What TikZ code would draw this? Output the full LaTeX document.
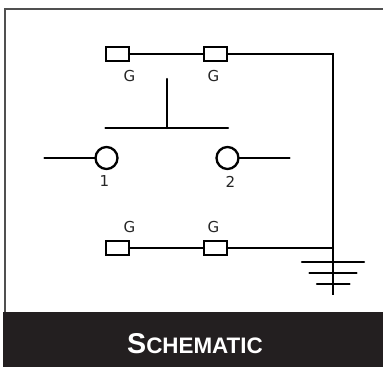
\documentclass[tikz,border=0pt]{standalone}
\usepackage{fontspec}
\setmainfont{Liberation Sans}
\newfontfamily\labelfont{DejaVu Sans}
\definecolor{band}{HTML}{231F20}
\definecolor{framegray}{HTML}{505050}
\tikzset{
  px/.style={x=0.75pt,y=-0.75pt},
  wire/.style={line width=1.65pt,black,line cap=round},
  fuse/.style={draw=black,line width=1.65pt,fill=white,minimum width=17.25pt,minimum height=10.5pt,inner sep=0pt,outer sep=0pt},
  contact/.style={circle,draw=black,line width=1.75pt,fill=white,minimum size=16.5pt,inner sep=0pt,outer sep=0pt},
  lab/.style={font=\labelfont\fontsize{11.3pt}{13pt}\selectfont,text=black!85,inner sep=0pt}
}
\begin{document}
\begin{tikzpicture}[px]
\useasboundingbox (0,0) rectangle (383,367);
\fill[white] (0,0) rectangle (383,367);
\draw[framegray,line width=1.7pt] (5,313) -- (5,9) -- (383,9);
\fill[band] (3,312) rectangle (383,367);
\node[fuse] (f1) at (117.5,54) {};
\node[fuse] (f2) at (215.5,54) {};
\node[fuse] (f3) at (117.5,248) {};
\node[fuse] (f4) at (215.5,248) {};
\node[contact] (c1) at (106.5,158) {};
\node[contact] (c2) at (227.5,158) {};
\coordinate (corner) at (333,54);
\coordinate (tee) at (333,248);
\coordinate (gndend) at (333,295);
\coordinate (l1) at (44.5,158);
\coordinate (l2) at (289.5,158);
\coordinate (busl) at (105.5,128);
\coordinate (busr) at (228,128);
\coordinate (bust) at (167,79);
\coordinate (busm) at (167,128);
\draw[wire] (f1) -- (f2);
\draw[wire,line join=miter,line cap=butt] (f2) -- (corner) -- (gndend);
\draw[wire] (f3) -- (f4);
\draw[wire] (f4) -- (tee);
\draw[wire] (busl) -- (busr);
\draw[wire] (bust) -- (busm);
\draw[wire] (l1) -- (c1);
\draw[wire] (l2) -- (c2);
\coordinate (g1l) at (302,262);
\coordinate (g1r) at (364,262);
\coordinate (g2l) at (309.5,273);
\coordinate (g2r) at (356.5,273);
\coordinate (g3l) at (317,284);
\coordinate (g3r) at (349.5,284);
\draw[wire] (g1l) -- (g1r);
\draw[wire] (g2l) -- (g2r);
\draw[wire] (g3l) -- (g3r);
\node[lab] at (129.5,76) {G};
\node[lab] at (213.5,76) {G};
\node[lab] at (129.5,227) {G};
\node[lab] at (213.5,227) {G};
\node[lab] at (104.5,181.5) {1};
\node[lab] at (230.5,181.5) {2};
\node[text=white,font=\bfseries\fontsize{21.5pt}{24pt}\selectfont,inner sep=0pt,anchor=base] (title) at (195,354) {S{\fontsize{16.8pt}{24pt}\selectfont CHEMATIC}};
\end{tikzpicture}
\end{document}
